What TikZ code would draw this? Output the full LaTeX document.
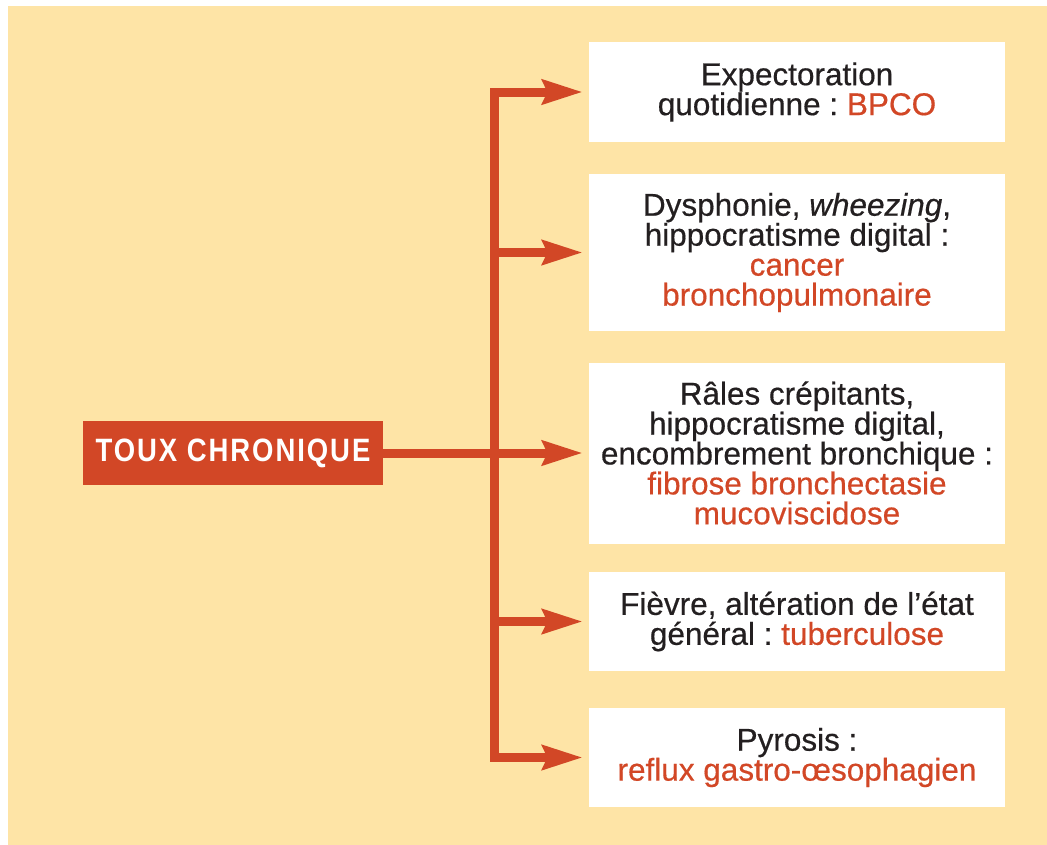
\documentclass[tikz,border=0pt]{standalone}
\usepackage{fontspec}
\setmainfont{Liberation Sans}
\usepackage{xcolor}
\usetikzlibrary{arrows.meta,positioning,calc}
\frenchspacing

\definecolor{toux}{RGB}{210,71,38}
\definecolor{fond}{RGB}{254,228,166}
\definecolor{texte}{RGB}{35,31,32}

\begin{document}
\begin{tikzpicture}[
    cause/.style={rectangle, fill=white, minimum width=10.4cm, align=center, text=texte,
        font=\fontsize{22.4}{21.3}\selectfont\addfontfeatures{FakeBold=0.5}},
    titre/.style={rectangle, fill=toux, minimum width=7.5cm, minimum height=1.6cm,
        text=white, font=\fontsize{23}{23}\selectfont\bfseries\addfontfeatures{FakeStretch=0.85, LetterSpace=6}},
    arrow/.style={-{Stealth[length=1cm, width=0.6cm, inset=0.12cm]}, line width=6.4pt, draw=toux, line join=miter}
]

\useasboundingbox (0,0) rectangle (26.175,-21.125);
\fill[fond] (0.2,-0.15) rectangle (26.175,-21.125);

% Main node
\node[titre] (toux) at (5.825,-11.325) {TOUX CHRONIQUE};

% Causes
\node[cause, minimum height=2.5cm] (bpco) at (19.925,-2.3) {
    Expectoration\\
    quotidienne : \textcolor{toux}{BPCO}
};
\node[cause, minimum height=3.925cm] (cancer) at (19.925,-6.3125) {
    Dysphonie, \textit{wheezing},\\
    hippocratisme digital :\\
    \textcolor{toux}{cancer}\\
    \textcolor{toux}{bronchopulmonaire}
};
\node[cause, minimum height=4.525cm] (fibrose) at (19.925,-11.325) {
    Râles crépitants,\\
    hippocratisme digital,\\
    encombrement bronchique :\\
    \textcolor{toux}{fibrose bronchectasie}\\
    \textcolor{toux}{mucoviscidose}
};
\node[cause, minimum height=2.475cm] (tuberculose) at (19.925,-15.5375) {
    Fièvre, altération de l’état\\
    général : \textcolor{toux}{tuberculose}
};
\node[cause, minimum height=2.475cm] (reflux) at (19.925,-18.9375) {
    Pyrosis :\\
    \textcolor{toux}{reflux gastro-œsophagien}
};

% Trunk
\coordinate (trunk) at (12.35,0);

% Arrows
\draw[arrow] (toux.east) -- ([xshift=-0.15cm]fibrose.west);
\draw[arrow] (trunk |- toux.east) -- (trunk |- bpco.west) -- ([xshift=-0.15cm]bpco.west);
\draw[arrow] (trunk |- toux.east) -- (trunk |- reflux.west) -- ([xshift=-0.15cm]reflux.west);
\draw[arrow] (trunk |- cancer.west) -- ([xshift=-0.15cm]cancer.west);
\draw[arrow] (trunk |- tuberculose.west) -- ([xshift=-0.15cm]tuberculose.west);

\end{tikzpicture}
\end{document}
